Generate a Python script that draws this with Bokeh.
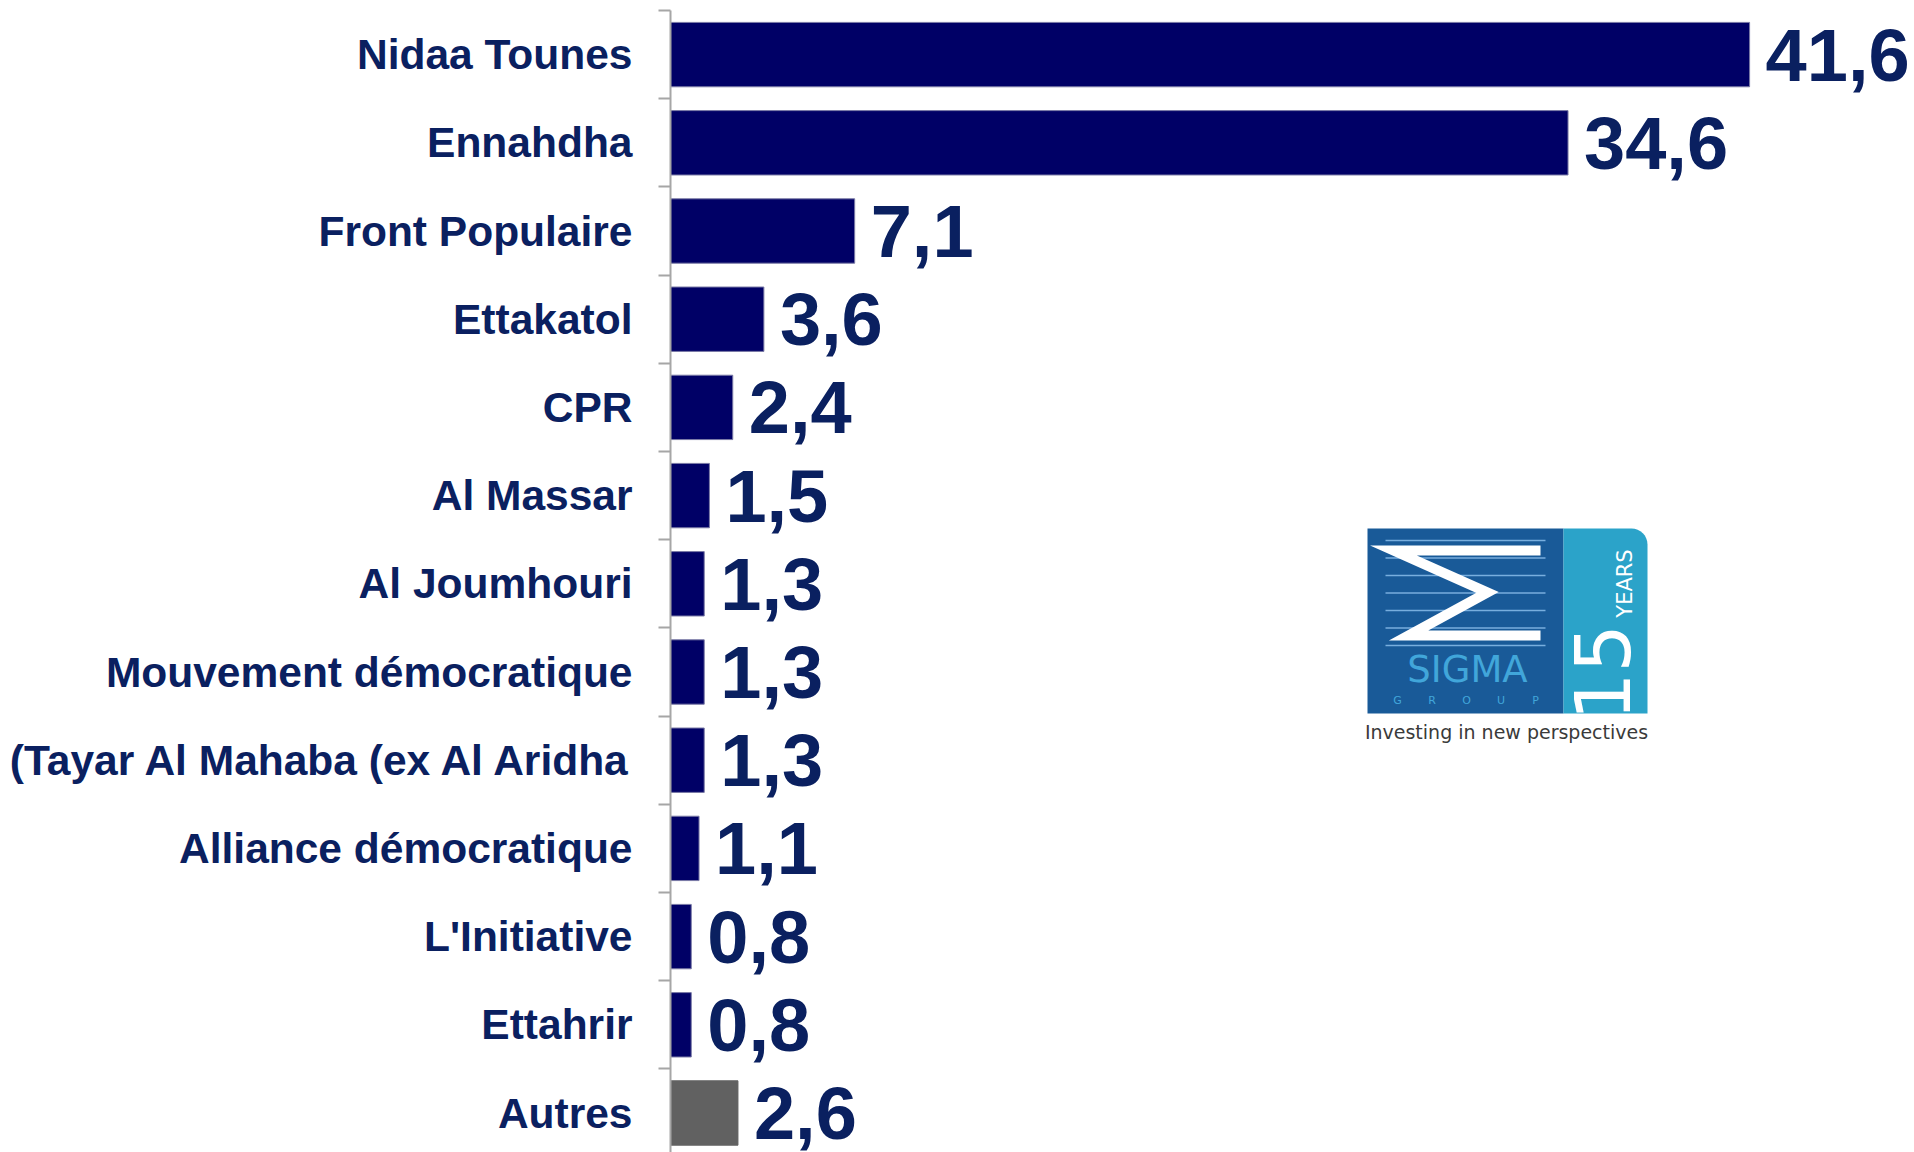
import math
from bokeh.plotting import figure
from bokeh.models import Range1d, FixedTicker, ColumnDataSource
from bokeh.core.properties import value
from bokeh.embed import file_html
from bokeh.resources import INLINE

# ---------------- data ----------------
categories = [
    "Nidaa Tounes", "Ennahdha", "Front Populaire", "Ettakatol", "CPR",
    "Al Massar", "Al Joumhouri", "Mouvement démocratique",
    "(Tayar Al Mahaba (ex Al Aridha", "Alliance démocratique",
    "L'Initiative", "Ettahrir", "Autres",
]
values = [41.6, 34.6, 7.1, 3.6, 2.4, 1.5, 1.3, 1.3, 1.3, 1.1, 0.8, 0.8, 2.6]
value_labels = ["41,6", "34,6", "7,1", "3,6", "2,4", "1,5", "1,3", "1,3",
                "1,3", "1,1", "0,8", "0,8", "2,6"]

NAVY = "#000066"
GREY_BAR = "#616161"
LABEL_COLOR = "#0a2060"
bar_colors = [NAVY] * 12 + [GREY_BAR]
bar_lines = ["#7a7aa6"] * 12 + [GREY_BAR]

# ---------------- geometry ----------------
FIG_W, FIG_H = 1914, 1152
LEFT, TOP = 670, 10
FRAME_W = FIG_W - LEFT
FRAME_H = FIG_H - TOP
PX_PER_UNIT = 25.94
ROW_PX = 88.2
X_END = FRAME_W / PX_PER_UNIT
Y_TOP = -0.5
Y_BOTTOM = Y_TOP + FRAME_H / ROW_PX

idx = list(range(len(categories)))
src = ColumnDataSource(dict(idx=idx, val=values, lab=value_labels,
                            color=bar_colors, line=bar_lines))

p = figure(width=FIG_W, height=FIG_H, output_backend="svg",
           toolbar_location=None, tools="",
           x_range=Range1d(0, X_END), y_range=Range1d(Y_BOTTOM, Y_TOP),
           x_axis_type=None,
           min_border_left=LEFT, min_border_top=TOP,
           min_border_right=0, min_border_bottom=0)
p.outline_line_color = None
p.xgrid.visible = False
p.ygrid.visible = False
p.background_fill_color = "white"
p.border_fill_color = "white"

ax = p.yaxis[0]
ax.ticker = FixedTicker(ticks=idx, minor_ticks=[i - 0.5 for i in range(len(categories) + 1)])
ax.major_label_overrides = {i: c for i, c in enumerate(categories)}
ax.major_tick_out = 0
ax.major_tick_in = 0
ax.minor_tick_out = 12
ax.minor_tick_in = 0
ax.minor_tick_line_color = "#a6a6a6"
ax.minor_tick_line_width = 2
ax.axis_line_color = "#a6a6a6"
ax.axis_line_width = 2
ax.major_label_standoff = 26
ax.major_label_text_font = "Liberation Sans"
ax.major_label_text_font_style = "bold"
ax.major_label_text_font_size = "42.5px"
ax.major_label_text_color = LABEL_COLOR

p.hbar(y="idx", left=0, right="val", height=0.73, source=src,
       fill_color="color", line_color="line", line_width=1)
p.text(x="val", y="idx", text="lab", source=src, x_offset=16,
       text_baseline="middle", text_align="left",
       text_font=value("Liberation Sans"), text_font_style="bold",
       text_font_size="74px", text_color=LABEL_COLOR)

# ---------------- logo (decoration, page pixel -> data) ----------------
PX0 = LEFT
PY0 = TOP


def X(px):
    return (px - PX0) / PX_PER_UNIT


def Y(py):
    return Y_TOP + (py - PY0) / ROW_PX


# dark blue square
p.quad(left=X(1367), right=X(1563), top=Y(528), bottom=Y(713),
       fill_color="#195a98", line_color=None)
# teal part with rounded top-right corner
r = 16
xs = [1563, 1647 - r]
ys = [528, 528]
for k in range(1, 9):
    a = math.pi / 2 - k * (math.pi / 2) / 8
    xs.append(1647 - r + r * math.cos(a))
    ys.append(528 + r - r * math.sin(a))
xs += [1647, 1563]
ys += [713, 713]
p.patch([X(v) for v in xs], [Y(v) for v in ys], fill_color="#2ba3c9", line_color=None)

# stripes
for py in [540, 557.5, 575, 592.5, 610, 627.5, 645]:
    p.line([X(1385), X(1545)], [Y(py), Y(py)], line_color="#78aede", line_width=1.5)

# sigma
sx = [1540, 1393, 1487, 1408, 1540]
sy = [550, 550, 592, 635, 635]
p.line([X(v) for v in sx], [Y(v) for v in sy], line_color="white",
       line_width=10, line_join="miter")

p.text(x=[X(1467)], y=[Y(669)], text=["SIGMA"], text_align="center",
       text_baseline="middle", text_font=value("DejaVu Sans"),
       text_font_style="normal", text_font_size="37px", text_color="#41a6da")
for i, ch in enumerate("GROUP"):
    p.text(x=[X(1397 + i * 34.5)], y=[Y(700)], text=[ch], text_align="center",
           text_baseline="middle", text_font=value("DejaVu Sans"),
           text_font_size="11px", text_color="#41a6da")

p.text(x=[X(1601)], y=[Y(672)], text=["15"], angle=math.pi / 2,
       text_align="center", text_baseline="middle",
       text_font=value("DejaVu Sans"), text_font_style="normal",
       text_font_size="76px", text_color="white")
p.text(x=[X(1624)], y=[Y(583)], text=["YEARS"], angle=math.pi / 2,
       text_align="center", text_baseline="middle",
       text_font=value("DejaVu Sans"), text_font_size="21px", text_color="white")
p.text(x=[X(1506)], y=[Y(731)], text=["Investing in new perspectives"],
       text_align="center", text_baseline="middle",
       text_font=value("DejaVu Sans"), text_font_size="19px", text_color="#3a3a3a")

open("out.html", "w").write(file_html(p, INLINE))
